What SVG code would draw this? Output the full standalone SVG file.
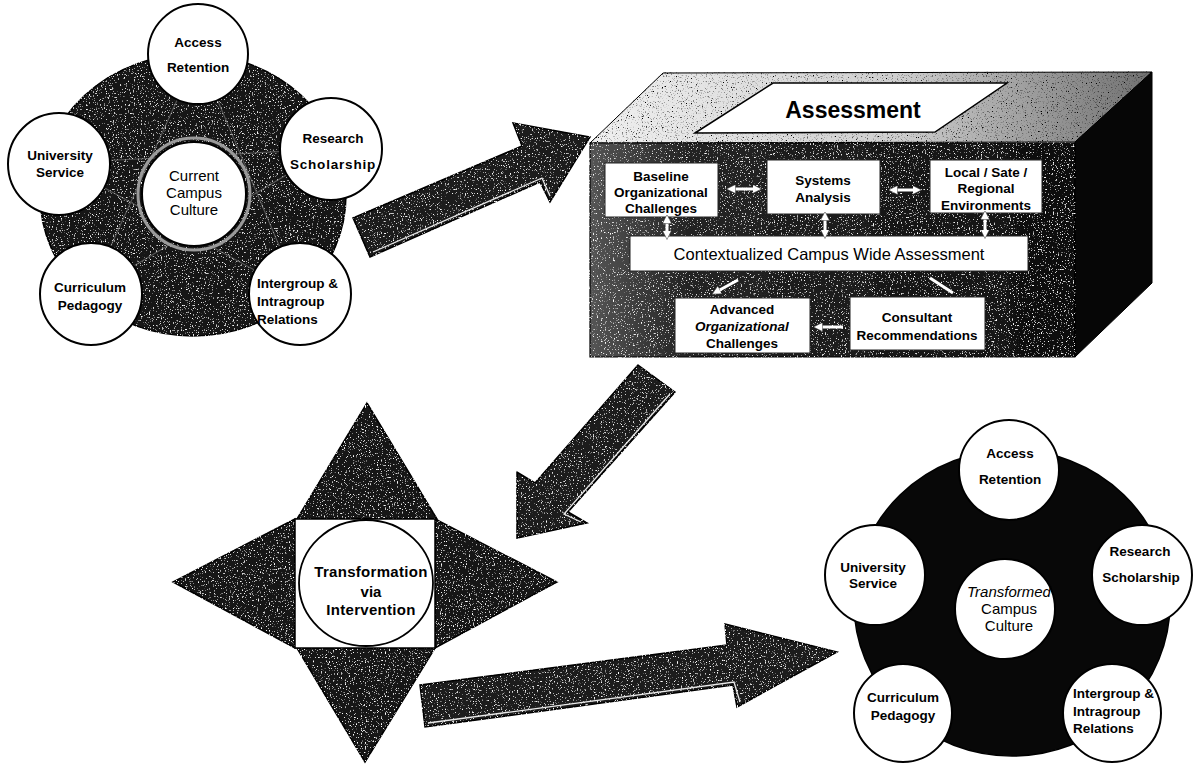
<svg xmlns="http://www.w3.org/2000/svg" width="1194" height="764" viewBox="0 0 1194 764">
<defs>
<filter id="grain">
 <feTurbulence type="fractalNoise" baseFrequency="0.75" numOctaves="2" seed="4" result="t"/>
 <feColorMatrix in="t" type="matrix" values="0 0 0 0 1  0 0 0 0 1  0 0 0 0 1  6 0 0 0 -3.75" result="w"/>
 <feComposite in="w" in2="SourceAlpha" operator="in" result="wm"/>
 <feMerge><feMergeNode in="SourceGraphic"/><feMergeNode in="wm"/></feMerge>
</filter>
<filter id="grainDark">
 <feTurbulence type="fractalNoise" baseFrequency="0.8" numOctaves="2" seed="9" result="t"/>
 <feColorMatrix in="t" type="matrix" values="0 0 0 0 0  0 0 0 0 0  0 0 0 0 0  5 0 0 0 -2.9" result="w"/>
 <feComposite in="w" in2="SourceAlpha" operator="in" result="wm"/>
 <feMerge><feMergeNode in="SourceGraphic"/><feMergeNode in="wm"/></feMerge>
</filter>
<linearGradient id="topFace" x1="0" y1="0" x2="1" y2="0">
 <stop offset="0" stop-color="#f0f0f0"/>
 <stop offset="0.55" stop-color="#cfcfcf"/>
 <stop offset="1" stop-color="#707070"/>
</linearGradient>
<linearGradient id="frontFace" x1="0" y1="0" x2="1" y2="0">
 <stop offset="0" stop-color="#555"/>
 <stop offset="0.2" stop-color="#242424"/>
 <stop offset="1" stop-color="#0e0e0e"/>
</linearGradient>
<marker id="wh" viewBox="0 0 10 10" refX="5" refY="5" markerWidth="3" markerHeight="3" orient="auto-start-reverse">
 <path d="M0,0 L10,5 L0,10 z" fill="#fff" stroke="#444" stroke-width="0.6"/>
</marker>
<style>
 text { font-family: "Liberation Sans", Arial, sans-serif; fill: #000; }
 .lbl { font-size: 13.5px; font-weight: bold; text-anchor: middle; }
 .lbll { font-size: 13.5px; font-weight: bold; text-anchor: start; }
 .ctr { font-size: 15px; text-anchor: middle; }
 .node { fill: #fff; stroke: #000; stroke-width: 2; }
 .box { fill: #fff; stroke: #222; stroke-width: 1; }
 .dark { fill: #141414; stroke: #000; stroke-width: 1.5; }
 .big { fill: #161616; stroke: #000; stroke-width: 1.5; }
 .penta { stroke: #8a8a8a; stroke-width: 1.2; fill: none; opacity: 0.55; }
 .conn { stroke: #fff; stroke-width: 3; fill: none; }
 .arrow { fill: #1a1a1a; stroke: #000; stroke-width: 1.5; }
 .hl { fill: none; stroke: #e8e8e8; stroke-width: 1.3; }
</style>
</defs>
<rect width="1194" height="764" fill="#fff"/>

<!-- Top-left cluster: current campus culture -->
<g id="current-culture">
 <ellipse class="big" cx="193" cy="195" rx="153" ry="141" filter="url(#grain)"/>
 <path class="penta" d="M59,163 L330,149 M198,54 L90,292 M198,54 L300,295 M59,163 L300,295 M330,149 L90,292"/>
 <circle cx="194" cy="194" r="56" fill="none" stroke="#9a9a9a" stroke-width="3"/>
</g>
<g id="tl-center">
 <circle class="node" cx="194" cy="194" r="52"/>
 <text class="ctr" x="194" y="181">Current</text>
 <text class="ctr" x="194" y="198">Campus</text>
 <text class="ctr" x="194" y="215">Culture</text>
</g>
<g id="tl-access">
 <circle class="node" cx="198" cy="54" r="50"/>
 <text class="lbl" x="198" y="47">Access</text>
 <text class="lbl" x="198" y="72">Retention</text>
</g>
<g id="tl-research">
 <circle class="node" cx="331" cy="149" r="51"/>
 <text class="lbl" x="333" y="143">Research</text>
 <text class="lbl" x="333" y="169" letter-spacing="0.8">Scholarship</text>
</g>
<g id="tl-university">
 <circle class="node" cx="59" cy="164" r="51"/>
 <text class="lbl" x="60" y="160">University</text>
 <text class="lbl" x="60" y="177">Service</text>
</g>
<g id="tl-curriculum">
 <circle class="node" cx="91" cy="294" r="51"/>
 <text class="lbl" x="90" y="292">Curriculum</text>
 <text class="lbl" x="90" y="310">Pedagogy</text>
</g>
<g id="tl-intergroup">
 <circle class="node" cx="300" cy="294" r="51"/>
 <text class="lbll" x="257" y="288">Intergroup &amp;</text>
 <text class="lbll" x="257" y="306">Intragroup</text>
 <text class="lbll" x="257" y="324">Relations</text>
</g>

<!-- Assessment box -->
<g id="assessment">
 <polygon points="590,143 663,73 1152,72 1075,142" fill="url(#topFace)" stroke="#000" stroke-width="1" filter="url(#grainDark)"/>
 <polygon points="1075,142 1152,72 1152,283 1075,357" fill="#060606" stroke="#000" stroke-width="1"/>
 <polygon points="590,143 1075,143 1075,357 590,357" fill="url(#frontFace)" stroke="#000" stroke-width="1.2" filter="url(#grain)"/>
 <polygon points="695,133 773,83 1007,83 935,132" fill="#fff" stroke="#000" stroke-width="1.5"/>
 <text x="853" y="118" font-size="23" font-weight="bold" text-anchor="middle">Assessment</text>
</g>
<g id="baseline">
 <rect class="box" x="605" y="163" width="113" height="54"/>
 <text class="lbl" x="661" y="181">Baseline</text>
 <text class="lbl" x="661" y="197">Organizational</text>
 <text class="lbl" x="661" y="213">Challenges</text>
</g>
<g id="systems">
 <rect class="box" x="767" y="160" width="113" height="54"/>
 <text class="lbl" x="823" y="185">Systems</text>
 <text class="lbl" x="823" y="202">Analysis</text>
</g>
<g id="local">
 <rect class="box" x="930" y="160" width="112" height="53"/>
 <text class="lbl" x="986" y="177">Local / Sate /</text>
 <text class="lbl" x="986" y="193">Regional</text>
 <text class="lbl" x="986" y="210">Environments</text>
</g>
<g id="contextualized">
 <rect class="box" x="630" y="236" width="398" height="35"/>
 <text x="829" y="260" font-size="16.5" text-anchor="middle">Contextualized Campus Wide Assessment</text>
</g>
<g id="advanced">
 <rect class="box" x="675" y="298" width="135" height="55"/>
 <text class="lbl" x="742" y="314">Advanced</text>
 <text class="lbl" x="742" y="331" font-style="italic">Organizational</text>
 <text class="lbl" x="742" y="348">Challenges</text>
</g>
<g id="consultant">
 <rect class="box" x="850" y="297" width="135" height="53"/>
 <text class="lbl" x="917" y="322">Consultant</text>
 <text class="lbl" x="917" y="340">Recommendations</text>
</g>

<!-- Transformation star -->
<g id="transformation">
 <polygon class="dark" points="297,519 367,403 437,519" filter="url(#grain)"/>
 <polygon class="dark" points="295,519 173,582 295,648" filter="url(#grain)"/>
 <polygon class="dark" points="297,648 365,762 435,648" filter="url(#grain)"/>
 <polygon class="dark" points="435,519 557,582 435,648" filter="url(#grain)"/>
 <rect x="295" y="519" width="140" height="129" fill="#fff" stroke="#000" stroke-width="1.5"/>
 <ellipse cx="366" cy="583" rx="67" ry="63" fill="#fff" stroke="#000" stroke-width="1.8"/>
 <text x="371" y="577" font-size="15" font-weight="bold" text-anchor="middle" letter-spacing="0.3">Transformation</text>
 <text x="371" y="597" font-size="15" font-weight="bold" text-anchor="middle">via</text>
 <text x="371" y="615" font-size="15" font-weight="bold" text-anchor="middle" letter-spacing="0.3">Intervention</text>
</g>

<!-- Bottom-right cluster: transformed campus culture -->
<g id="transformed-culture">
 <ellipse cx="1012" cy="603" rx="158" ry="153" fill="#080808" stroke="#000" stroke-width="1.5"/>
</g>
<g id="br-center">
 <circle class="node" cx="1005" cy="609" r="50"/>
 <text class="ctr" x="1009" y="597" font-style="italic">Transformed</text>
 <text class="ctr" x="1009" y="614">Campus</text>
 <text class="ctr" x="1009" y="631">Culture</text>
</g>
<g id="br-access">
 <circle class="node" cx="1009" cy="470" r="50"/>
 <text class="lbl" x="1010" y="458">Access</text>
 <text class="lbl" x="1010" y="484">Retention</text>
</g>
<g id="br-research">
 <circle class="node" cx="1142" cy="575" r="50"/>
 <text class="lbl" x="1140" y="556">Research</text>
 <text class="lbl" x="1141" y="582">Scholarship</text>
</g>
<g id="br-university">
 <circle class="node" cx="875" cy="575" r="50"/>
 <text class="lbl" x="873" y="572">University</text>
 <text class="lbl" x="873" y="588">Service</text>
</g>
<g id="br-curriculum">
 <circle class="node" cx="903" cy="713" r="49"/>
 <text class="lbl" x="903" y="702">Curriculum</text>
 <text class="lbl" x="903" y="720">Pedagogy</text>
</g>
<g id="br-intergroup">
 <circle class="node" cx="1112" cy="713" r="49"/>
 <text class="lbll" x="1073" y="698">Intergroup &amp;</text>
 <text class="lbll" x="1073" y="716">Intragroup</text>
 <text class="lbll" x="1073" y="733">Relations</text>
</g>

<!-- Connectors -->
<g id="connectors">
 <polygon class="arrow" points="353,218 522,146 513,123 590,137 550,202 540,182 370,257" filter="url(#grain)"/>
 <polyline class="hl" points="373,252 542,178 550,196"/>
 <polygon class="arrow" points="638,365 675,392 568,512 587,523 517,538 517,472 535,483" filter="url(#grain)"/>
 <polyline class="hl" points="670,394 564,514 581,522"/>
 <polygon class="arrow" points="420,685 727,645 725,624 837,652 737,707 733,685 425,727" filter="url(#grain)"/>
 <polyline class="hl" points="428,723 734,682 740,702"/>
 <g marker-start="url(#wh)" marker-end="url(#wh)">
  <line class="conn" x1="731" y1="189" x2="757" y2="189"/>
  <line class="conn" x1="893" y1="190" x2="917" y2="190"/>
  <line class="conn" x1="667" y1="219" x2="667" y2="235"/>
  <line class="conn" x1="825" y1="216" x2="825" y2="234"/>
  <line class="conn" x1="985" y1="215" x2="985" y2="234"/>
 </g>
 <line class="conn" x1="738" y1="280" x2="716" y2="292" marker-end="url(#wh)"/>
 <line class="conn" x1="930" y1="278" x2="953" y2="293"/>
 <line class="conn" x1="843" y1="327" x2="818" y2="327" marker-end="url(#wh)"/>
</g>
</svg>
